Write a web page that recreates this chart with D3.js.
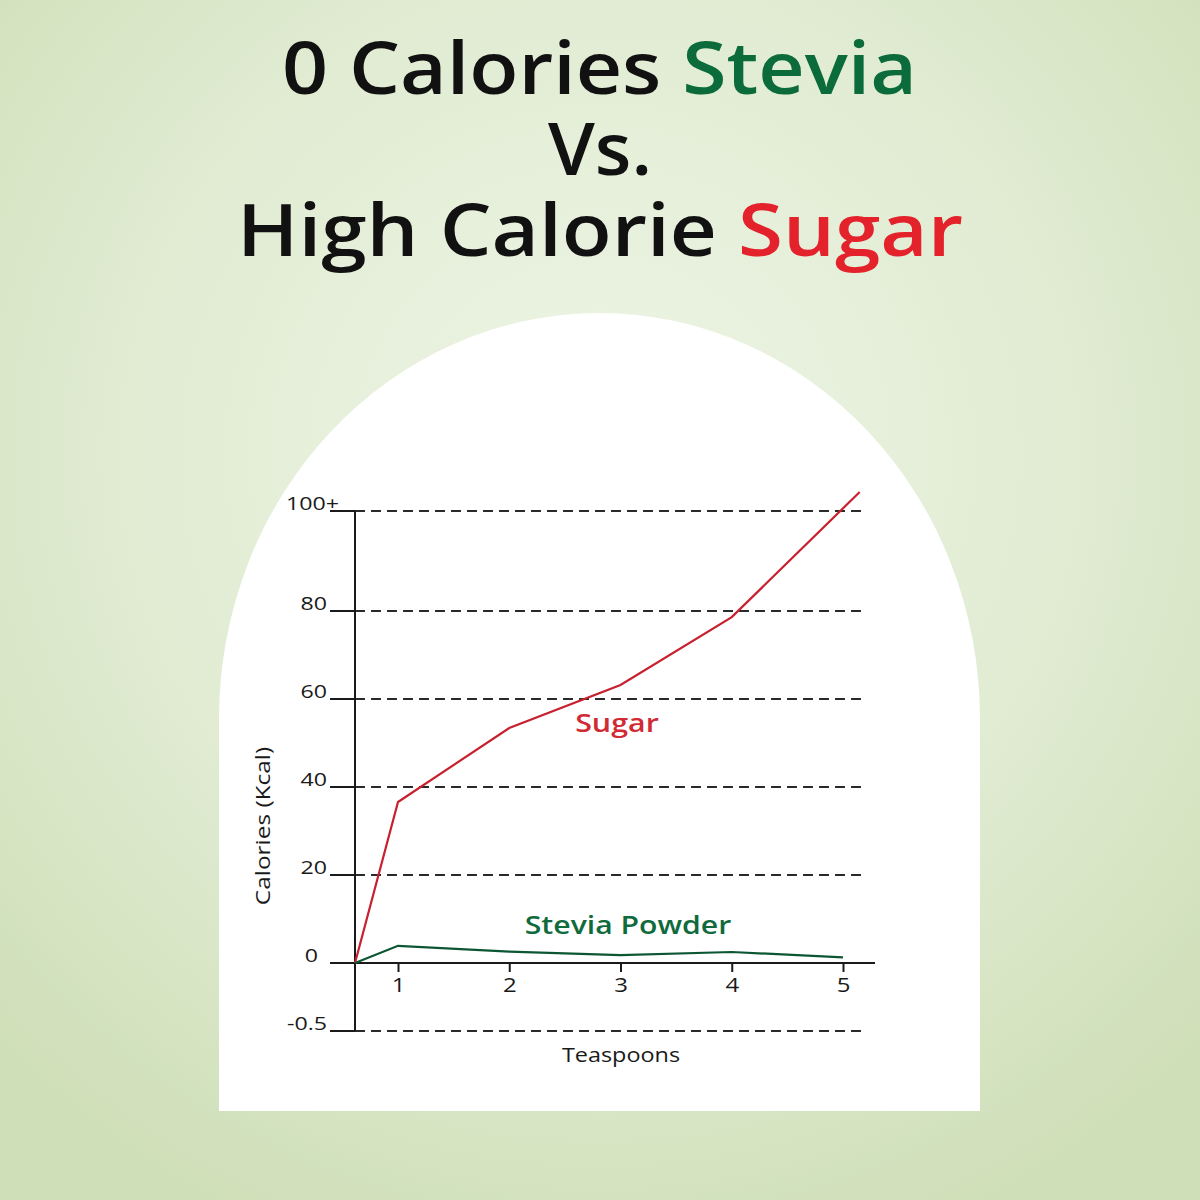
<!DOCTYPE html>
<html>
<head>
<meta charset="utf-8">
<script src="https://cdn.jsdelivr.net/npm/d3@7"></script>
<style>
  html, body { margin: 0; padding: 0; background: #dfeacf; }
  svg { display: block; }
</style>
</head>
<body>
<div id="chart"></div>
<script>
// ---------- data ----------
const yTickValues = [-0.5, 0, 20, 40, 60, 80, 100];
const yTickLabels = ["-0.5", "0", "20", "40", "60", "80", "100+"];
const xTickValues = [1, 2, 3, 4, 5];
const xTickLabels = ["1", "2", "3", "4", "5"];

const sugarX = [0, 1, 2, 3, 4, 5.15];
const sugarY = [0, 36.6, 53.4, 63.2, 78.6, 103.8];
const steviaX = [0, 1, 2, 3, 4, 5];
const steviaY = [0, 3.9, 2.6, 1.8, 2.5, 1.3];

const titleLines = [
  [{t: "0 Calories ", c: "#111111"}, {t: "Stevia", c: "#0b6b3a"}],
  [{t: "Vs.", c: "#111111"}],
  [{t: "High Calorie ", c: "#111111"}, {t: "Sugar", c: "#e3222b"}]
];

// ---------- layout ----------
const W = 1200, H = 1200;
const svg = d3.select("#chart").append("svg").attr("width", W).attr("height", H);

const defs = svg.append("defs");
const rg = defs.append("radialGradient").attr("id", "bg")
  .attr("cx", "50%").attr("cy", "38%").attr("r", "70%");
rg.append("stop").attr("offset", "0%").attr("stop-color", "#eef5e6");
rg.append("stop").attr("offset", "55%").attr("stop-color", "#e1ecd3");
rg.append("stop").attr("offset", "100%").attr("stop-color", "#cfdfb8");
svg.append("rect").attr("width", W).attr("height", H).attr("fill", "url(#bg)");

// white arch panel
const archL = 219, archR = 980, archB = 1111, archTop = 313, archCy = 719;
const rx = (archR - archL) / 2, ry = archCy - archTop;
const archPath = `M${archL},${archB} L${archL},${archCy} A${rx},${ry} 0 0 1 ${archR},${archCy} L${archR},${archB} Z`;
svg.append("path").attr("d", archPath).attr("fill", "#ffffff");

// widen helper: imitates the wide geometric face of the reference
function widen(sel, f) {
  sel.each(function () {
    const L = this.getComputedTextLength();
    d3.select(this).attr("textLength", L * f).attr("lengthAdjust", "spacingAndGlyphs");
  });
}

// title
const titleFont = "'Open Sans', 'DejaVu Sans', sans-serif";
const titleBase = [94, 175, 256];
const titleSpan = [[282, 917], [548, 652], [237, 963]];
titleLines.forEach((line, i) => {
  const t = svg.append("text")
    .attr("x", titleSpan[i][0])
    .attr("y", titleBase[i])
    .attr("font-family", titleFont)
    .attr("font-weight", 600)
    .attr("font-size", 72)
    .attr("textLength", titleSpan[i][1] - titleSpan[i][0])
    .attr("lengthAdjust", "spacingAndGlyphs");
  line.forEach(s => t.append("tspan").attr("fill", s.c).text(s.t));
});

// scales (piecewise linear, as in the reference)
const x = d3.scaleLinear().domain([0, 1, 5]).range([355, 398, 843]);
const y = d3.scaleLinear().domain(yTickValues).range([1031, 963, 875, 787, 699, 611, 511]);

const labelFont = "'Open Sans', 'DejaVu Sans', sans-serif";
const gridL = 330, gridR = 867;
const axisColor = "#1a1a1a";

// horizontal gridlines (dashed) with solid tick stubs
const grid = svg.append("g");
yTickValues.filter(v => v !== 0).forEach(v => {
  grid.append("line")
    .attr("x1", x(0)).attr("x2", gridR)
    .attr("y1", y(v)).attr("y2", y(v))
    .attr("stroke", "#2b2b2b").attr("stroke-width", 2)
    .attr("stroke-dasharray", "10,6");
  grid.append("line")
    .attr("x1", gridL).attr("x2", x(0))
    .attr("y1", y(v)).attr("y2", y(v))
    .attr("stroke", axisColor).attr("stroke-width", 2);
});

// y axis line
svg.append("line")
  .attr("x1", x(0)).attr("x2", x(0))
  .attr("y1", y(100)).attr("y2", y(-0.5))
  .attr("stroke", axisColor).attr("stroke-width", 2);

// x axis (at zero)
const xAxis = d3.axisBottom(x)
  .tickValues(xTickValues)
  .tickFormat((d, i) => xTickLabels[i])
  .tickSize(9)
  .tickPadding(6);
const xg = svg.append("g").attr("transform", `translate(0,${y(0)})`).call(xAxis);
xg.select(".domain").remove();
xg.selectAll(".tick line").attr("stroke", axisColor).attr("stroke-width", 2);
xg.selectAll(".tick text")
  .attr("font-family", labelFont).attr("font-size", 20).attr("fill", "#1a1a1a");
widen(xg.selectAll(".tick text"), 1.2);
svg.append("line")
  .attr("x1", gridL).attr("x2", 875)
  .attr("y1", y(0)).attr("y2", y(0))
  .attr("stroke", axisColor).attr("stroke-width", 2);

// y tick labels
const yl = svg.append("g").selectAll("text")
  .data(yTickValues)
  .join("text")
  .attr("x", (d) => d === 0 ? 318 : (d === 100 ? 339 : 327))
  .attr("y", d => y(d) - 1)
  .attr("text-anchor", "end")
  .attr("font-family", labelFont)
  .attr("font-size", 19)
  .attr("fill", "#1a1a1a")
  .text((d, i) => yTickLabels[i]);
widen(yl, 1.22);

// axis titles
const yt = svg.append("text")
  .attr("transform", `translate(270,${826}) rotate(-90)`)
  .attr("text-anchor", "middle")
  .attr("font-family", labelFont).attr("font-size", 20).attr("fill", "#1a1a1a")
  .text("Calories (Kcal)");
widen(yt, 1.22);
const xt = svg.append("text")
  .attr("x", 621).attr("y", 1062)
  .attr("text-anchor", "middle")
  .attr("font-family", labelFont).attr("font-size", 20).attr("fill", "#1a1a1a")
  .text("Teaspoons");
widen(xt, 1.17);

// lines
const line = d3.line().x(d => x(d[0])).y(d => y(d[1]));
svg.append("path")
  .datum(sugarX.map((v, i) => [v, sugarY[i]]))
  .attr("d", line)
  .attr("fill", "none").attr("stroke", "#c8202e").attr("stroke-width", 2.2);
svg.append("path")
  .datum(steviaX.map((v, i) => [v, steviaY[i]]))
  .attr("d", line)
  .attr("fill", "none").attr("stroke", "#0d5634").attr("stroke-width", 2.2);

// series labels
const sl = svg.append("text")
  .attr("x", 617).attr("y", 732)
  .attr("text-anchor", "middle")
  .attr("font-family", labelFont).attr("font-weight", 600).attr("font-size", 26)
  .attr("fill", "#d22a35")
  .text("Sugar");
widen(sl, 1.17);
const stl = svg.append("text")
  .attr("x", 628).attr("y", 934)
  .attr("text-anchor", "middle")
  .attr("font-family", labelFont).attr("font-weight", 600).attr("font-size", 26)
  .attr("fill", "#0f6a3c")
  .text("Stevia Powder");
widen(stl, 1.16);
</script>
</body>
</html>
